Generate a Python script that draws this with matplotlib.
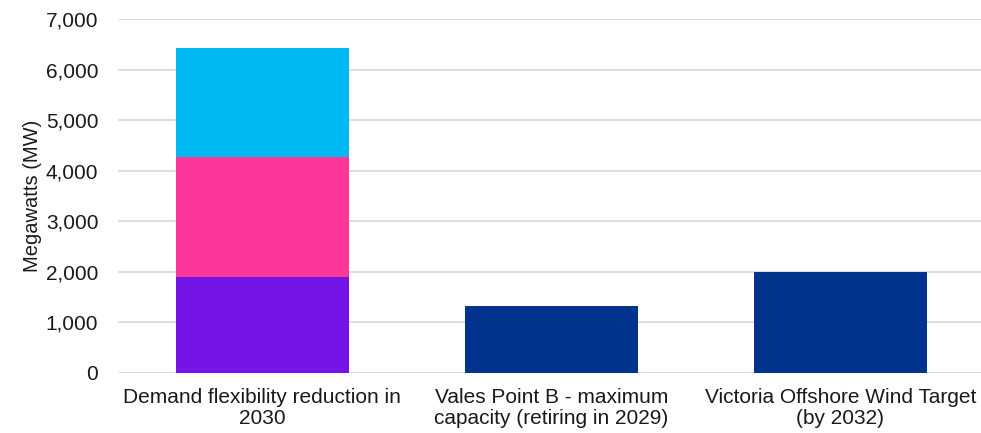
import matplotlib
matplotlib.use("Agg")
from matplotlib import pyplot as plt
from matplotlib.ticker import FuncFormatter
import numpy as np

plt.rcParams['font.family'] = ['Liberation Sans', 'DejaVu Sans']

categories = ["Demand flexibility reduction in\n2030",
              "Vales Point B - maximum\ncapacity (retiring in 2029)",
              "Victoria Offshore Wind Target\n(by 2032)"]

# stacked pieces of the demand flexibility bar
flex_bottom = 1900
flex_middle = 2370
flex_top = 2150
# single bars
vales_point = 1320
offshore_wind = 2000

fig = plt.figure(figsize=(9.81, 4.33), dpi=100)
ax = fig.add_axes([0.12, 0.1386, 0.884, 0.8175])

w = 0.6
ax.bar(0, flex_bottom, width=w, color='#7514E8', zorder=3)
ax.bar(0, flex_middle, width=w, bottom=flex_bottom, color='#FF3699', zorder=3)
ax.bar(0, flex_top, width=w, bottom=flex_bottom + flex_middle, color='#00B9F2', zorder=3)
ax.bar([1, 2], [vales_point, offshore_wind], width=w, color='#00338D', zorder=3)

ax.set_xlim(-0.5, 2.5)
ax.set_ylim(0, 7000)
ax.set_yticks(np.arange(0, 7001, 1000))
ax.yaxis.set_major_formatter(FuncFormatter(lambda v, p: f"{int(v):,}"))
ax.set_xticks([0, 1, 2])
ax.set_xticklabels(categories, fontsize=15, color='#1a1a1a', linespacing=1.1)
ax.tick_params(axis='y', labelsize=15, colors='#1a1a1a', length=0, pad=14)
ax.tick_params(axis='x', length=0, pad=11)
ax.grid(axis='y', color='#d9d9d9', linewidth=1.2, zorder=0)
for s in ax.spines.values():
    s.set_visible(False)
ax.set_ylabel('Megawatts (MW)', fontsize=14.5, color='#1a1a1a', labelpad=3)

fig.savefig('out.png', dpi=100)
